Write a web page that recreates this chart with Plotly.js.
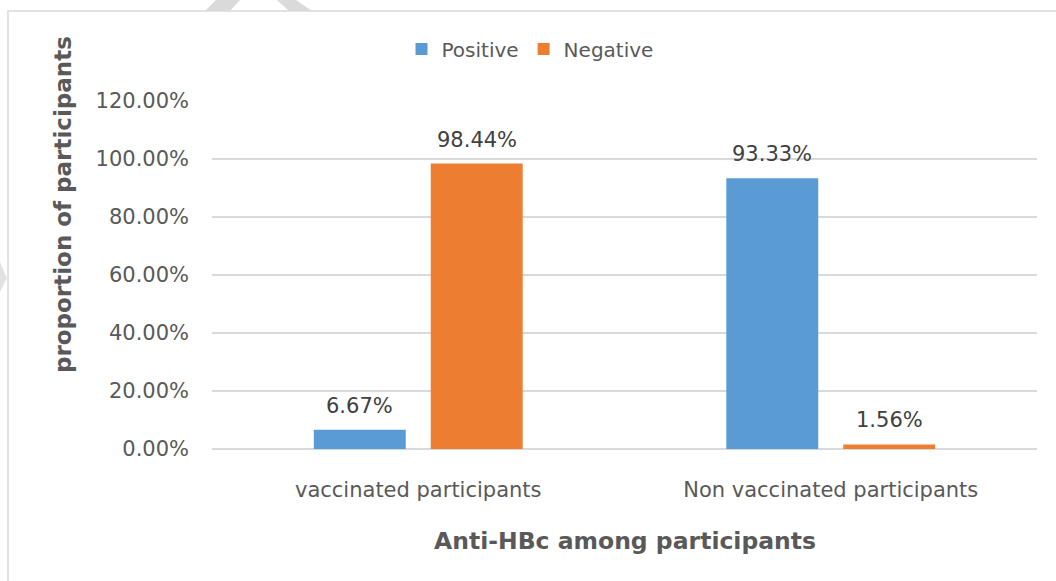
<!DOCTYPE html>
<html>
<head>
<meta charset="utf-8">
<script src="https://cdn.plot.ly/plotly-3.0.1.min.js"></script>
<style>html,body{margin:0;padding:0;background:#fff;}#chart{width:1056px;height:581px;}</style>
</head>
<body>
<div id="chart"></div>
<script>
const categories = ["vaccinated participants", "Non vaccinated participants"];
const positiveValues = [0.0667, 0.9333];
const negativeValues = [0.9844, 0.0156];
const seriesNames = ["Positive", "Negative"];
const yTickValues = [0, 0.2, 0.4, 0.6, 0.8, 1.0, 1.2];
const yTickLabels = ["0.00%", "20.00%", "40.00%", "60.00%", "80.00%", "100.00%", "120.00%"];

const W = 1056, H = 581;
const L = 212, R = 19, T = 101, B = 132;
const pw = W - L - R, ph = H - T - B;
const px = x => (x - L) / pw;
const py = y => (H - B - y) / ph;

const FONT = "DejaVu Sans, Verdana, sans-serif";
const fmt = v => (v * 100).toFixed(2) + "%";

const traces = [
  {type: "bar", name: seriesNames[0], x: categories, y: positiveValues,
   marker: {color: "#5B9BD5"}, hoverinfo: "none"},
  {type: "bar", name: seriesNames[1], x: categories, y: negativeValues,
   marker: {color: "#ED7D31"}, hoverinfo: "none"}
];

const annotations = [];
const shift = 58.5;
categories.forEach((c, i) => {
  annotations.push({x: c, y: positiveValues[i], xref: "x", yref: "y", text: fmt(positiveValues[i]),
    showarrow: false, yanchor: "bottom", xshift: -shift, yshift: 10,
    font: {family: FONT, size: 21, color: "#404040"}});
  annotations.push({x: c, y: negativeValues[i], xref: "x", yref: "y", text: fmt(negativeValues[i]),
    showarrow: false, yanchor: "bottom", xshift: shift, yshift: 10,
    font: {family: FONT, size: 21, color: "#404040"}});
});
annotations.push({xref: "paper", yref: "paper", x: px(63), y: py(205), text: "<b>proportion of participants</b>",
  textangle: -90, showarrow: false, xanchor: "center", yanchor: "middle",
  font: {family: FONT, size: 23, color: "#595959"}});
annotations.push({xref: "paper", yref: "paper", x: px(625), y: py(541), text: "<b>Anti-HBc among participants</b>",
  showarrow: false, xanchor: "center", yanchor: "middle",
  font: {family: FONT, size: 23.5, color: "#595959"}});

const shapes = [
  {type: "rect", xref: "paper", yref: "paper", x0: px(8), x1: px(1070), y0: py(600), y1: py(11),
   line: {color: "#D9D9D9", width: 1.5}, fillcolor: "rgba(0,0,0,0)", layer: "below"},
  {type: "path", xref: "paper", yref: "paper", fillcolor: "#DADADA", line: {width: 0},
   path: `M ${px(205)} ${py(11)} L ${px(230)} ${py(11)} L ${px(240)} ${py(0)} L ${px(216)} ${py(0)} Z`},
  {type: "path", xref: "paper", yref: "paper", fillcolor: "#DADADA", line: {width: 0},
   path: `M ${px(277)} ${py(0)} L ${px(296)} ${py(0)} L ${px(312)} ${py(11)} L ${px(289)} ${py(11)} Z`},
  {type: "path", xref: "paper", yref: "paper", fillcolor: "#E2E2E2", line: {width: 0},
   path: `M ${px(0)} ${py(262)} L ${px(7)} ${py(278)} L ${px(0)} ${py(292)} Z`}
];

const layout = {
  width: W, height: H,
  margin: {l: L, r: R, t: T, b: B, pad: 0},
  paper_bgcolor: "#fff", plot_bgcolor: "#fff",
  barmode: "group", bargap: 0.433, bargroupgap: 0.214,
  showlegend: true,
  legend: {orientation: "h", x: px(530), xanchor: "center", y: py(49), yanchor: "middle",
    font: {family: FONT, size: 20, color: "#595959"}, itemwidth: 30, traceorder: "normal",
    bgcolor: "rgba(0,0,0,0)"},
  xaxis: {type: "category", showgrid: false, zeroline: false, showline: false, ticks: "",
    tickfont: {family: FONT, size: 21, color: "#595959"}, ticklabelstandoff: 26, fixedrange: true},
  yaxis: {range: [0, 1.2], tickvals: yTickValues, ticktext: yTickLabels, showgrid: true,
    gridcolor: "#D9D9D9", gridwidth: 1.5, zeroline: true, zerolinecolor: "#D9D9D9", zerolinewidth: 1.5,
    showline: false, ticks: "", tickfont: {family: FONT, size: 21, color: "#595959"},
    ticklabelstandoff: 22, fixedrange: true},
  annotations: annotations,
  shapes: shapes
};

Plotly.newPlot("chart", traces, layout, {displayModeBar: false, staticPlot: true});
</script>
</body>
</html>
